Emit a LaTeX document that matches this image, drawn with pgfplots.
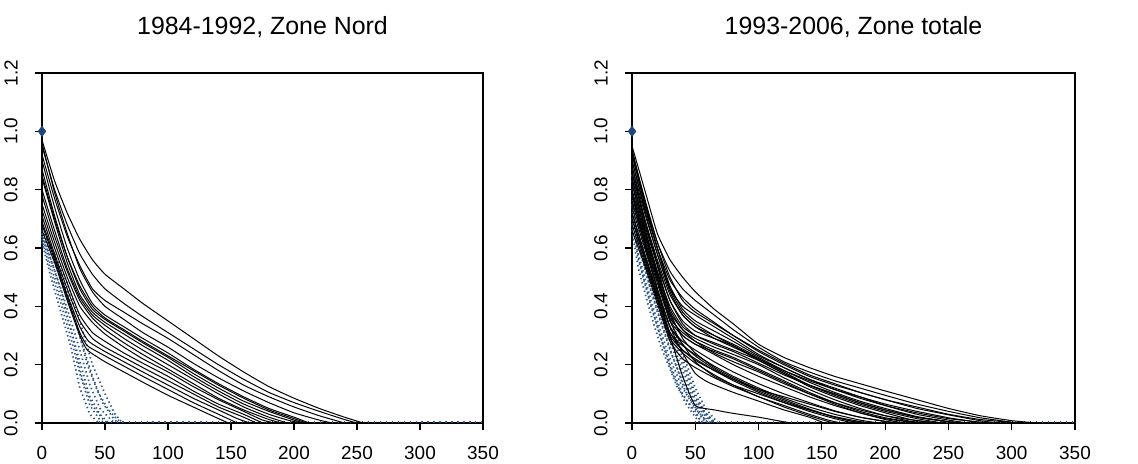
\documentclass[border=0pt]{standalone}
\usepackage{pgfplots}
\pgfplotsset{compat=1.18}
\usepackage{fontspec}
\setmainfont{Liberation Sans}
\definecolor{dotblue}{RGB}{45,85,135}
\definecolor{diablue}{RGB}{30,70,120}
\pgfplotsset{
  rplot/.style={
    scale only axis, height=175bp,
    xmin=0, xmax=350, ymin=0, ymax=1.2,
    xtick={0,50,100,150,200,250,300,350},
    ytick={0,0.2,0.4,0.6,0.8,1.0,1.2},
    tick align=outside, major tick length=3.5bp,
    xtick pos=left, ytick pos=left,
    axis line style={line width=0.6pt},
    every tick/.style={line width=0.6pt, black},
    clip=false,
    /pgf/number format/assume math mode=true,
    yticklabel style={rotate=90, anchor=south, inner sep=0pt, yshift=8.5bp,
      /pgf/number format/fixed, /pgf/number format/fixed zerofill,
      /pgf/number format/precision=1,
      font=\fontsize{9.5}{11}\selectfont},
    xticklabel style={anchor=north, inner sep=0pt, yshift=-8bp, font=\fontsize{9.5}{11}\selectfont},
    title style={at={(0.5,1)}, anchor=base, yshift=13.5bp, font=\fontsize{12.5}{15}\selectfont},
  },
  bl/.style={black, line width=0.5pt, smooth, tension=0.3},
  bd/.style={dotblue, line width=0.85pt, dash pattern=on 0.7pt off 1.5pt},
}
\begin{document}
\begin{tikzpicture}
\path (0,0) rectangle (569bp,232bp);
% ---------------- Left panel ----------------
\begin{axis}[rplot, width=220.5bp, at={(21bp,20.5bp)}, anchor=south west,
  title={1984-1992, Zone Nord}]
\addplot[dotblue, line width=1pt, dash pattern=on 0.6pt off 2.4pt] coordinates {(45,0.004) (350,0.004)};
\addplot[bd] coordinates {(0,0.62)(7,0.50)(15,0.38)(23,0.26)(30,0.12)(38,0.03)(45,0)};
\addplot[bd] coordinates {(0,0.63)(7,0.52)(15,0.41)(23,0.29)(30,0.17)(38,0.06)(46,0.01)(50,0)};
\addplot[bd] coordinates {(0,0.64)(7,0.54)(15,0.43)(23,0.32)(30,0.21)(38,0.09)(46,0.03)(53,0)};
\addplot[bd] coordinates {(0,0.65)(7,0.56)(15,0.46)(23,0.35)(30,0.25)(38,0.13)(46,0.05)(55,0.01)(58,0)};
\addplot[bd] coordinates {(0,0.65)(8,0.57)(16,0.48)(24,0.38)(32,0.27)(40,0.16)(48,0.07)(56,0.02)(60,0)};
\addplot[bd] coordinates {(0,0.66)(10,0.58)(20,0.48)(30,0.35)(40,0.20)(50,0.10)(58,0.03)(64,0)};
\addplot[bd] coordinates {(0,0.66)(10,0.57)(20,0.45)(28,0.33)(36,0.20)(44,0.11)(52,0.05)(60,0.01)(66,0)};
\addplot[bd] coordinates {(0,0.64)(8,0.55)(16,0.44)(24,0.30)(32,0.15)(40,0.06)(48,0.015)(52,0)};
% black curves
\addplot[bl] coordinates {(0,0.97)(10,0.83)(20,0.72)(30,0.63)(40,0.56)(50,0.51)(65,0.46)(80,0.41)(100,0.35)(120,0.29)(140,0.23)(160,0.175)(180,0.125)(200,0.085)(220,0.05)(240,0.02)(255,0)};
\addplot[bl] coordinates {(0,0.95)(10,0.80)(20,0.68)(30,0.58)(40,0.51)(50,0.46)(65,0.41)(80,0.365)(100,0.31)(120,0.255)(140,0.2)(160,0.15)(180,0.105)(200,0.07)(220,0.04)(240,0.012)(250,0)};
\addplot[bl] coordinates {(0,0.92)(10,0.77)(20,0.64)(30,0.54)(40,0.46)(50,0.42)(65,0.38)(80,0.34)(100,0.29)(120,0.235)(140,0.18)(160,0.13)(180,0.09)(200,0.055)(220,0.025)(240,0)};
\addplot[bl] coordinates {(0,0.96)(10,0.79)(20,0.65)(30,0.53)(40,0.45)(50,0.40)(65,0.355)(80,0.31)(100,0.26)(120,0.205)(140,0.155)(160,0.11)(180,0.07)(200,0.035)(220,0.01)(230,0)};
\addplot[bl] coordinates {(0,0.90)(10,0.74)(20,0.60)(30,0.49)(40,0.41)(50,0.37)(65,0.33)(80,0.29)(100,0.24)(120,0.185)(140,0.135)(160,0.09)(180,0.05)(200,0.02)(212,0)};
\addplot[bl] coordinates {(0,0.87)(10,0.71)(20,0.57)(30,0.46)(40,0.39)(50,0.355)(65,0.315)(80,0.275)(100,0.225)(120,0.17)(140,0.12)(160,0.075)(180,0.04)(200,0.01)(208,0)};
\addplot[bl] coordinates {(0,0.85)(10,0.70)(20,0.57)(30,0.47)(40,0.40)(50,0.36)(65,0.32)(80,0.28)(100,0.23)(120,0.18)(140,0.13)(160,0.085)(180,0.045)(200,0.015)(210,0)};
\addplot[bl] coordinates {(0,0.84)(10,0.69)(20,0.55)(30,0.44)(40,0.38)(50,0.345)(65,0.305)(80,0.265)(100,0.215)(120,0.16)(140,0.11)(160,0.065)(180,0.03)(195,0.01)(205,0)};
\addplot[bl] coordinates {(0,0.80)(10,0.66)(20,0.53)(30,0.43)(40,0.37)(50,0.335)(65,0.29)(80,0.25)(100,0.2)(120,0.15)(140,0.1)(160,0.055)(180,0.02)(195,0)};
\addplot[bl] coordinates {(0,0.78)(10,0.64)(20,0.52)(30,0.42)(40,0.36)(50,0.32)(65,0.275)(80,0.235)(100,0.185)(120,0.135)(140,0.085)(160,0.045)(180,0.012)(190,0)};
\addplot[bl] coordinates {(0,0.75)(10,0.62)(20,0.50)(30,0.40)(40,0.345)(50,0.305)(65,0.26)(80,0.22)(100,0.175)(120,0.125)(140,0.08)(160,0.04)(175,0.01)(185,0)};
\addplot[bl] coordinates {(0,0.73)(10,0.60)(20,0.48)(30,0.37)(40,0.31)(50,0.28)(65,0.24)(80,0.205)(100,0.16)(120,0.11)(140,0.065)(160,0.03)(175,0)};
\addplot[bl] coordinates {(0,0.71)(10,0.58)(20,0.46)(30,0.35)(40,0.29)(50,0.26)(65,0.225)(80,0.19)(100,0.145)(120,0.1)(140,0.055)(160,0.02)(170,0)};
\addplot[bl] coordinates {(0,0.69)(10,0.57)(20,0.44)(30,0.33)(37,0.28)(50,0.245)(65,0.21)(80,0.175)(100,0.13)(120,0.085)(140,0.045)(155,0.015)(165,0)};
\addplot[bl] coordinates {(0,0.68)(10,0.56)(20,0.43)(30,0.31)(36,0.265)(50,0.23)(65,0.195)(80,0.16)(100,0.115)(120,0.07)(140,0.03)(155,0)};
\addplot[bl] coordinates {(0,0.66)(10,0.55)(20,0.42)(30,0.30)(36,0.25)(50,0.21)(65,0.175)(80,0.14)(100,0.095)(120,0.055)(140,0.015)(148,0)};
\addplot[only marks, mark=diamond*, mark size=2.5bp, diablue] coordinates {(0,1)};
\end{axis}
% ---------------- Right panel ----------------
\begin{axis}[rplot, width=221.5bp, at={(316bp,20.5bp)}, anchor=south west,
  title={1993-2006, Zone totale}]
\addplot[dotblue, line width=1pt, dash pattern=on 0.6pt off 2.4pt] coordinates {(50,0.004) (350,0.004)};
\addplot[bd] coordinates {(0,0.66)(5,0.53)(15,0.37)(23,0.26)(36,0.12)(50,0.04)(55,0)};
\addplot[bd] coordinates {(0,0.68)(5,0.56)(15,0.40)(23,0.29)(30,0.20)(40,0.10)(50,0.03)(56,0)};
\addplot[bd] coordinates {(0,0.70)(5,0.58)(15,0.42)(23,0.31)(30,0.22)(40,0.12)(50,0.05)(58,0)};
\addplot[bd] coordinates {(0,0.72)(5,0.61)(15,0.45)(23,0.34)(30,0.25)(40,0.14)(50,0.06)(60,0)};
\addplot[bd] coordinates {(0,0.75)(5,0.64)(15,0.47)(23,0.36)(30,0.28)(40,0.16)(50,0.07)(62,0)};
\addplot[bd] coordinates {(0,0.78)(5,0.67)(15,0.50)(23,0.39)(30,0.30)(40,0.18)(50,0.08)(58,0.03)(64,0)};
\addplot[bd] coordinates {(0,0.80)(10,0.61)(20,0.46)(30,0.33)(40,0.20)(50,0.09)(57,0.04)(65,0)};
\addplot[bd] coordinates {(0,0.83)(10,0.63)(20,0.48)(30,0.36)(40,0.22)(50,0.10)(57,0.04)(66,0)};
\addplot[bd] coordinates {(0,0.85)(10,0.64)(20,0.50)(30,0.37)(40,0.24)(50,0.12)(58,0.05)(68,0)};
\addplot[bd] coordinates {(0,0.70)(6,0.55)(14,0.42)(22,0.30)(32,0.17)(42,0.07)(50,0.02)(54,0)};
\addplot[bd] coordinates {(0,0.74)(6,0.60)(14,0.47)(22,0.36)(32,0.23)(42,0.11)(52,0.04)(60,0)};
% black curves
\addplot[bl] coordinates {(0,0.95)(10,0.80)(20,0.65)(30,0.56)(40,0.50)(50,0.45)(65,0.39)(80,0.34)(100,0.27)(120,0.225)(140,0.19)(160,0.16)(180,0.135)(200,0.11)(225,0.08)(250,0.05)(275,0.025)(300,0.008)(320,0)};
\addplot[bl] coordinates {(0,0.93)(10,0.77)(20,0.62)(30,0.52)(40,0.46)(50,0.42)(65,0.37)(80,0.32)(100,0.26)(120,0.21)(140,0.175)(160,0.145)(180,0.12)(200,0.095)(225,0.065)(250,0.04)(275,0.018)(300,0.003)(310,0)};
\addplot[bl] coordinates {(0,0.92)(10,0.76)(20,0.62)(30,0.50)(40,0.42)(50,0.38)(65,0.34)(80,0.30)(100,0.25)(120,0.205)(140,0.165)(160,0.135)(180,0.105)(200,0.08)(225,0.055)(250,0.03)(275,0.012)(300,0.002)(305,0)};
\addplot[bl] coordinates {(0,0.90)(10,0.74)(20,0.60)(30,0.49)(40,0.43)(50,0.39)(65,0.345)(80,0.30)(100,0.245)(120,0.2)(140,0.16)(160,0.13)(180,0.105)(200,0.08)(225,0.05)(250,0.028)(275,0.008)(290,0)};
\addplot[bl] coordinates {(0,0.90)(10,0.73)(20,0.58)(30,0.45)(40,0.37)(50,0.33)(65,0.29)(80,0.26)(100,0.22)(120,0.18)(140,0.145)(160,0.115)(180,0.085)(200,0.06)(225,0.035)(250,0.015)(275,0.003)(285,0)};
\addplot[bl] coordinates {(0,0.88)(10,0.72)(20,0.58)(30,0.46)(40,0.40)(50,0.37)(65,0.33)(80,0.29)(100,0.235)(120,0.19)(140,0.15)(160,0.115)(180,0.09)(200,0.065)(225,0.04)(250,0.018)(270,0.005)(280,0)};
\addplot[bl] coordinates {(0,0.92)(10,0.75)(20,0.60)(30,0.47)(40,0.39)(50,0.35)(65,0.315)(80,0.28)(100,0.23)(120,0.19)(140,0.15)(160,0.12)(180,0.09)(200,0.06)(225,0.03)(250,0.01)(265,0)};
\addplot[bl] coordinates {(0,0.94)(10,0.76)(20,0.60)(30,0.46)(40,0.38)(50,0.34)(65,0.30)(80,0.265)(100,0.215)(120,0.17)(140,0.13)(160,0.1)(180,0.07)(200,0.045)(225,0.02)(250,0.004)(260,0)};
\addplot[bl] coordinates {(0,0.86)(10,0.69)(20,0.55)(30,0.42)(40,0.34)(50,0.30)(65,0.27)(80,0.245)(100,0.205)(120,0.165)(140,0.13)(160,0.1)(180,0.07)(200,0.045)(225,0.02)(250,0.004)(260,0)};
\addplot[bl] coordinates {(0,0.86)(10,0.70)(20,0.56)(30,0.44)(40,0.37)(50,0.33)(65,0.30)(80,0.27)(100,0.225)(120,0.18)(140,0.14)(160,0.105)(180,0.075)(200,0.05)(225,0.022)(250,0.005)(258,0)};
\addplot[bl] coordinates {(0,0.84)(10,0.68)(20,0.54)(30,0.42)(40,0.35)(50,0.315)(65,0.29)(80,0.265)(100,0.22)(120,0.175)(140,0.13)(160,0.095)(180,0.065)(200,0.04)(225,0.015)(245,0)};
\addplot[bl] coordinates {(0,0.84)(10,0.67)(20,0.52)(30,0.39)(40,0.32)(50,0.28)(65,0.24)(80,0.21)(100,0.175)(120,0.135)(140,0.1)(160,0.07)(180,0.045)(200,0.025)(225,0.008)(240,0)};
\addplot[bl] coordinates {(0,0.82)(10,0.66)(20,0.52)(30,0.40)(40,0.33)(50,0.30)(65,0.275)(80,0.25)(100,0.215)(120,0.17)(140,0.125)(160,0.09)(180,0.06)(200,0.035)(220,0.012)(240,0)};
\addplot[bl] coordinates {(0,0.80)(10,0.65)(20,0.51)(30,0.38)(40,0.32)(50,0.29)(65,0.26)(80,0.235)(100,0.2)(120,0.155)(140,0.115)(160,0.08)(180,0.05)(200,0.025)(220,0.006)(235,0)};
\addplot[bl] coordinates {(0,0.79)(10,0.64)(20,0.50)(30,0.37)(40,0.30)(50,0.27)(65,0.235)(80,0.2)(100,0.16)(120,0.125)(140,0.09)(160,0.06)(180,0.035)(200,0.015)(220,0.003)(230,0)};
\addplot[bl] coordinates {(0,0.78)(10,0.63)(20,0.49)(30,0.36)(40,0.31)(50,0.28)(65,0.25)(80,0.225)(100,0.185)(120,0.145)(140,0.105)(160,0.07)(180,0.04)(200,0.018)(225,0)};
\addplot[bl] coordinates {(0,0.76)(10,0.62)(20,0.48)(30,0.35)(40,0.30)(50,0.27)(65,0.245)(80,0.22)(100,0.18)(120,0.14)(140,0.1)(160,0.065)(180,0.035)(200,0.012)(215,0)};
\addplot[bl] coordinates {(0,0.74)(10,0.60)(20,0.46)(30,0.33)(40,0.28)(50,0.25)(65,0.21)(80,0.175)(100,0.135)(120,0.1)(140,0.07)(160,0.042)(180,0.02)(200,0.005)(210,0)};
\addplot[bl] coordinates {(0,0.72)(10,0.58)(20,0.44)(30,0.31)(40,0.265)(50,0.235)(65,0.195)(80,0.16)(100,0.12)(120,0.085)(140,0.055)(160,0.03)(180,0.01)(195,0)};
\addplot[bl] coordinates {(0,0.72)(10,0.58)(20,0.45)(30,0.33)(40,0.27)(50,0.21)(65,0.16)(80,0.13)(100,0.1)(120,0.07)(140,0.045)(160,0.022)(180,0.005)(190,0)};
\addplot[bl] coordinates {(0,0.70)(10,0.57)(20,0.43)(30,0.30)(40,0.25)(50,0.22)(65,0.18)(80,0.145)(100,0.105)(120,0.07)(140,0.04)(160,0.015)(175,0)};
\addplot[bl] coordinates {(0,0.70)(10,0.56)(20,0.43)(30,0.31)(40,0.25)(50,0.215)(65,0.18)(80,0.15)(100,0.115)(120,0.09)(140,0.065)(160,0.04)(180,0.02)(200,0.006)(210,0)};
\addplot[bl] coordinates {(0,0.88)(10,0.70)(20,0.54)(30,0.38)(40,0.29)(50,0.24)(65,0.19)(80,0.155)(100,0.115)(120,0.08)(140,0.048)(160,0.02)(180,0)};
\addplot[bl] coordinates {(0,0.82)(10,0.66)(20,0.50)(30,0.35)(40,0.27)(50,0.23)(65,0.185)(80,0.15)(100,0.11)(120,0.075)(140,0.045)(160,0.02)(175,0.005)(185,0)};
\addplot[bl] coordinates {(0,0.68)(10,0.55)(20,0.42)(30,0.29)(40,0.24)(50,0.205)(65,0.165)(80,0.13)(100,0.09)(120,0.06)(140,0.03)(155,0.01)(165,0)};
\addplot[bl] coordinates {(0,0.66)(10,0.54)(20,0.41)(30,0.28)(40,0.22)(50,0.19)(65,0.155)(80,0.125)(100,0.09)(120,0.055)(140,0.025)(155,0.005)(160,0)};
\addplot[bl] coordinates {(0,0.76)(10,0.61)(20,0.46)(30,0.33)(40,0.24)(50,0.17)(60,0.14)(80,0.105)(100,0.075)(120,0.045)(140,0.02)(152,0)};
\addplot[bl] coordinates {(0,0.78)(10,0.62)(20,0.46)(30,0.30)(40,0.16)(50,0.06)(65,0.045)(80,0.033)(100,0.02)(115,0.008)(125,0)};
\addplot[only marks, mark=diamond*, mark size=2.5bp, diablue] coordinates {(0,1)};
\end{axis}
\end{tikzpicture}
\end{document}
